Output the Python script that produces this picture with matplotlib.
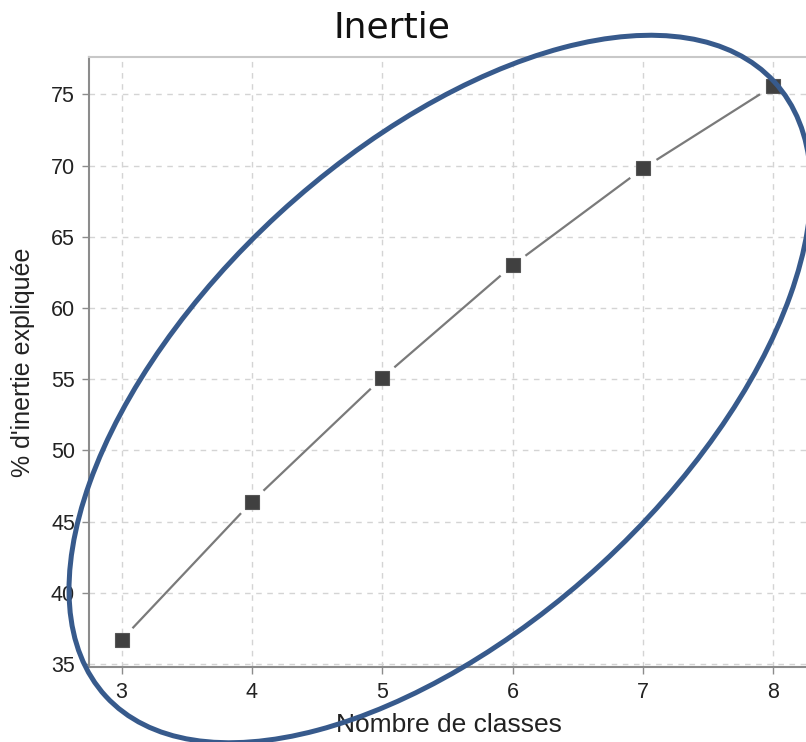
import numpy as np
import matplotlib
matplotlib.use("Agg")
import matplotlib.pyplot as plt
from matplotlib.patches import Ellipse
from matplotlib.transforms import IdentityTransform

# data
nb_classes = [3, 4, 5, 6, 7, 8]
inertie = [36.7, 46.4, 55.1, 63.0, 69.8, 75.6]
x_ticks = [3, 4, 5, 6, 7, 8]
y_ticks = [35, 40, 45, 50, 55, 60, 65, 70, 75]

W, H = 806, 742
fig = plt.figure(figsize=(W / 100, H / 100), dpi=100)
ax = fig.add_axes([89 / W, 1 - 667 / H, 1 - 89 / W, (667 - 57) / H])

ax.set_xlim(2.75, 8.25)
ax.set_ylim(34.79, 77.62)
ax.set_xticks(x_ticks)
ax.set_yticks(y_ticks)

ax.grid(True, color="#d4d4d4", linestyle=(0, (4, 4)), linewidth=1)
ax.set_axisbelow(True)

for s in ["left", "bottom"]:
    ax.spines[s].set_color("#8c8c8c")
    ax.spines[s].set_linewidth(1.5)
ax.spines["top"].set_color("#c8c8c8")
ax.spines["top"].set_linewidth(1.5)
ax.spines["right"].set_visible(False)

ax.tick_params(axis="both", direction="out", length=5, width=1, color="#8c8c8c",
               labelsize=15.5, labelcolor="#222222")
ax.tick_params(axis="y", pad=5)
ax.tick_params(axis="x", pad=6)
for lab in ax.get_xticklabels() + ax.get_yticklabels():
    lab.set_family("Liberation Sans")

# line segments with small gaps around the markers
gap = 17
pts = ax.transData.transform(np.column_stack([nb_classes, inertie]))
inv = ax.transData.inverted()
for i in range(len(pts) - 1):
    p0, p1 = pts[i], pts[i + 1]
    d = p1 - p0
    L = np.hypot(*d)
    a = inv.transform(p0 + d * gap / L)
    b = inv.transform(p1 - d * gap / L)
    ax.plot([a[0], b[0]], [a[1], b[1]], color="#7a7a7a", linewidth=1.6, zorder=3)

ax.plot(nb_classes, inertie, linestyle="none", marker="s", markersize=10,
        markerfacecolor="#404040", markeredgecolor="#555555", markeredgewidth=0.8, zorder=4)

fig.text(392 / W, 1 - 28 / H, "Inertie", ha="center", va="center", fontsize=26,
         family="DejaVu Sans", color="#111111")
fig.text(449 / W, 1 - 725 / H, "Nombre de classes", ha="center", va="center",
         fontsize=19, family="Liberation Sans", color="#222222")
fig.text(23 / W, 1 - 362 / H, "% d'inertie expliquée", ha="center", va="center",
         rotation=90, fontsize=18, family="Liberation Sans", color="#222222")

# hand-drawn highlight ellipse (pixel coordinates)
ell = Ellipse((440, H - 389), width=2 * 454, height=2 * 238, angle=42.6,
              transform=IdentityTransform(), fill=False, edgecolor="#375a8c",
              linewidth=3.6, zorder=10)
fig.add_artist(ell)

fig.savefig("out.png", dpi=100)
